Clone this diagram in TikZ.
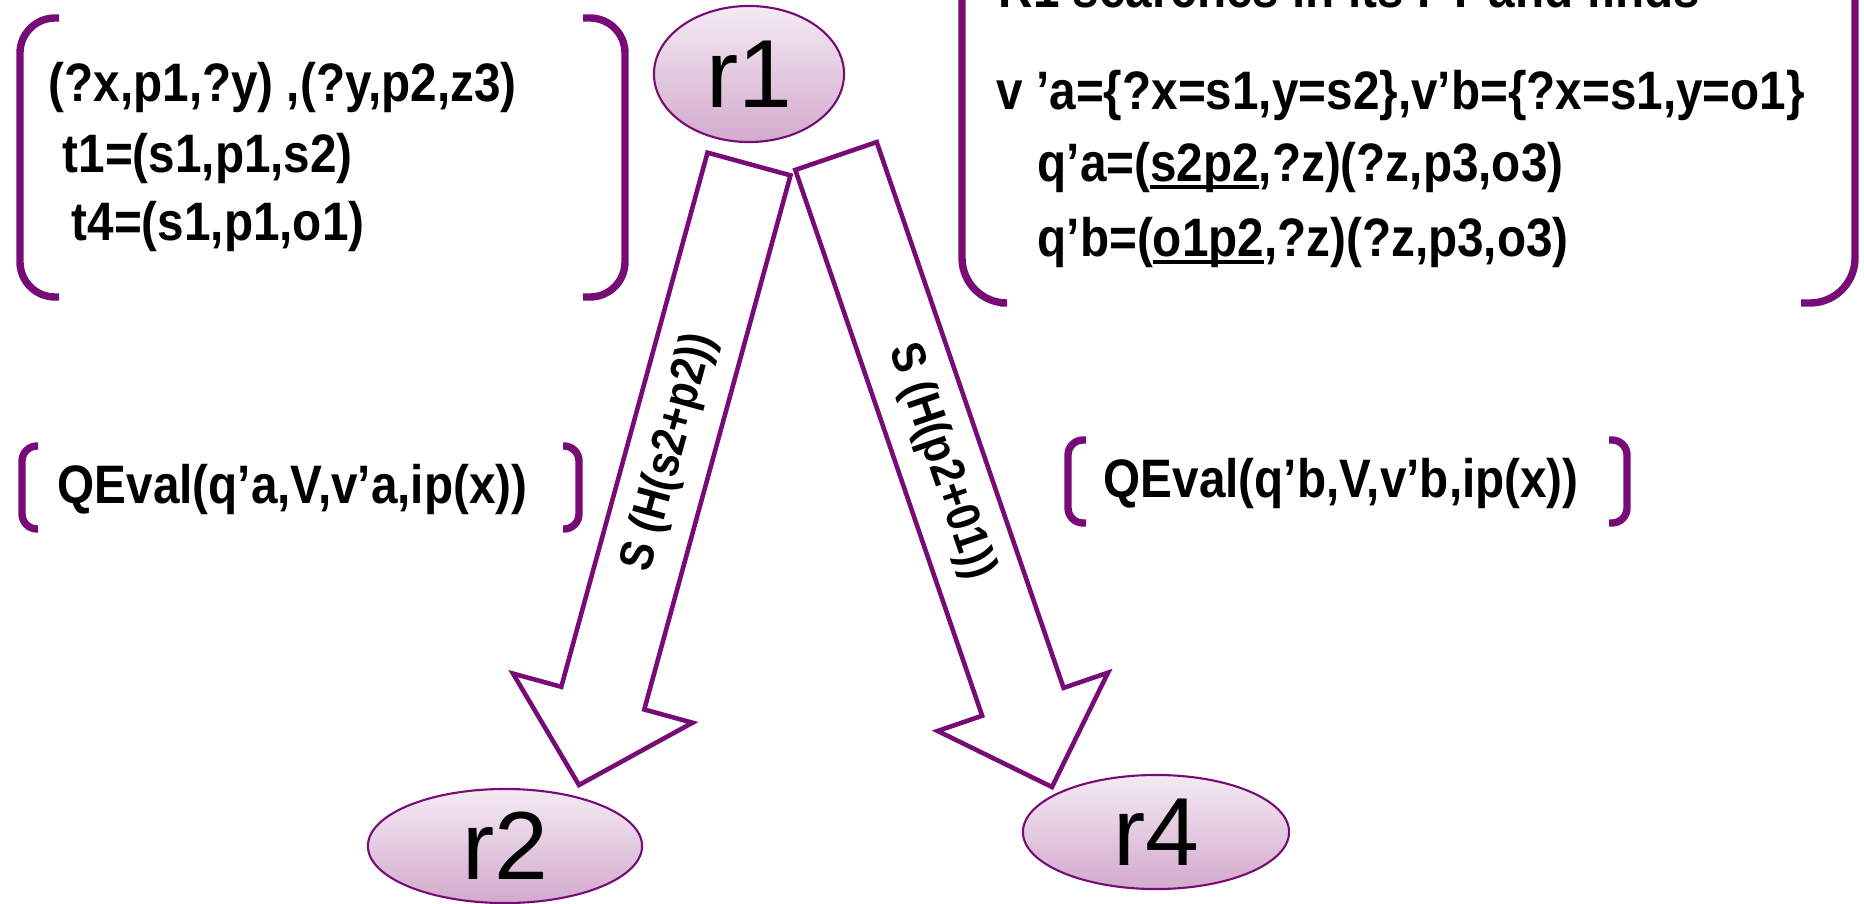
\documentclass[tikz,border=0pt]{standalone}
\usepackage{fontspec}
\setmainfont{Liberation Sans}[FakeStretch=0.88]
\newfontfamily\nodefont{Liberation Sans}
\usetikzlibrary{calc}
\usetikzlibrary{shapes.geometric}
\definecolor{pu}{RGB}{120,12,118}
\definecolor{el1}{RGB}{244,234,243}
\definecolor{el2}{RGB}{211,170,205}
\newcommand{\undl}[1]{\setbox0\hbox{#1}\rlap{\rule[-2.4pt]{\wd0}{1.4pt}}\box0}

\begin{document}
\begin{tikzpicture}[
    x=0.01cm, y=-0.01cm,
    font=\fontsize{15.4}{18}\selectfont\bfseries,
    r/.style={
        ellipse, draw=pu, line width=0.6pt, inner sep=0pt,
        top color=el1, bottom color=el2,
        font=\nodefont\fontsize{27.5}{30}\selectfont
    },
    brk/.style={
        draw=pu, line width=2.1pt, rounded corners=0.35cm
    },
    bar/.style={draw=pu, line width=1.3pt, fill=white, line join=miter},
    t/.style={anchor=base west, inner sep=0pt},
    lab/.style={font=\fontsize{13.5}{16}\selectfont\bfseries}
]

    \useasboundingbox (0,0) rectangle (1864,903);

    \node [r, minimum width=1.9cm, minimum height=1.36cm] (r1) at (749,74) {r1};
    \node [r, minimum width=2.74cm, minimum height=1.14cm] (r2) at (505,846) {r2};
    \node [r, minimum width=2.66cm, minimum height=1.14cm] (r4) at (1156,832) {r4};

    \coordinate (a2) at (749,164);
    \coordinate (b2) at (579,785);
    \coordinate (a4) at (836,156);
    \coordinate (b4) at (1052,787);
    \coordinate (s2) at ($(b2)!0.9cm!(a2)$);
    \coordinate (s4) at ($(b4)!0.9cm!(a4)$);

    \draw [bar] ($(a2)!0.43cm!90:(b2)$) -- ($(s2)!0.43cm!90:(b2)$) --
        ($(s2)!0.93cm!90:(b2)$) -- (b2) -- ($(s2)!0.93cm!-90:(b2)$) --
        ($(s2)!0.43cm!-90:(b2)$) -- ($(a2)!0.43cm!-90:(b2)$) -- cycle;
    \draw [bar] ($(a4)!0.43cm!90:(b4)$) -- ($(s4)!0.43cm!90:(b4)$) --
        ($(s4)!0.9cm!90:(b4)$) -- (b4) -- ($(s4)!0.9cm!-90:(b4)$) --
        ($(s4)!0.43cm!-90:(b4)$) -- ($(a4)!0.43cm!-90:(b4)$) -- cycle;

    \path (a2) -- (s2) node [lab, pos=0.54, sloped] (h2) {S (H(s2+p2))};
    \path (a4) -- (s4) node [lab, pos=0.56, sloped] (h4) {S (H(p2+01))};

    \draw [brk] (59,18) -| (20,297) -- (59,297);
    \draw [brk] (583,18) -| (625,297) -- (583,297);
    \node [t] (l1) at (48,101) {(?x,p1,?y) ,(?y,p2,z3)};
    \node [t] (l2) at (62,172) {t1=(s1,p1,s2)};
    \node [t] (l3) at (71,240) {t4=(s1,p1,o1)};

    \draw [brk, rounded corners=0.45cm] (962,-30) |- (1000,303);
    \draw [brk, rounded corners=0.45cm] (1855,-30) |- (1801,303);
    \node [t] (f0) at (998,8) {R1 searches in its FT and finds};
    \node [t] (f1) at (996,109) {v ’a=\{?x=s1,y=s2\},v’b=\{?x=s1,y=o1\}};
    \node [t] (f2) at (1037,181) {q’a=(\undl{s2p2},?z)(?z,p3,o3)};
    \node [t] (f3) at (1037,256) {q’b=(\undl{o1p2},?z)(?z,p3,o3)};

    \draw [brk, rounded corners=0.15cm] (38,446) -| (22,529) -- (38,529);
    \draw [brk, rounded corners=0.15cm] (563,446) -| (579,529) -- (563,529);
    \node [t] (qa) at (57,503) {QEval(q’a,V,v’a,ip(x))};

    \draw [brk, rounded corners=0.15cm] (1086,440) -| (1068,523) -- (1086,523);
    \draw [brk, rounded corners=0.15cm] (1609,440) -| (1627,523) -- (1609,523);
    \node [t] (qb) at (1103,497) {QEval(q’b,V,v’b,ip(x))};

\end{tikzpicture}
\end{document}
